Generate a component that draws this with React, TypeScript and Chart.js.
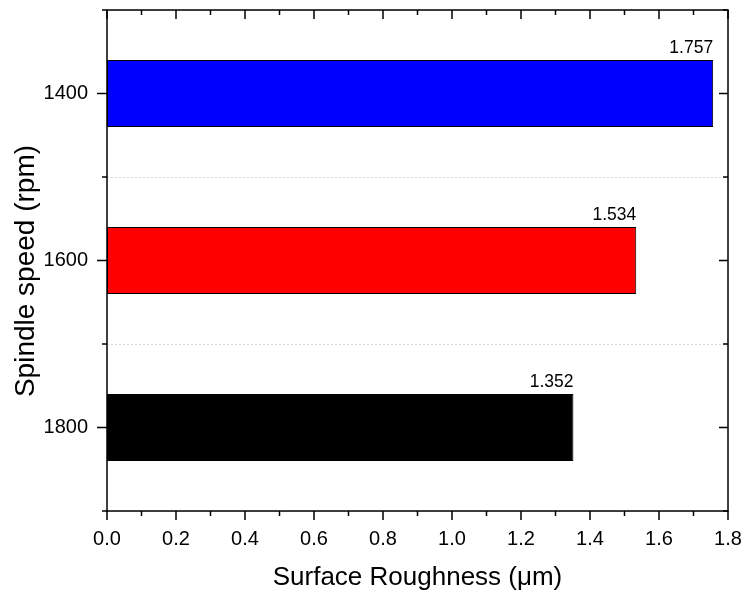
import React, { useEffect, useRef } from "react";
import { Chart, registerables } from "chart.js";

Chart.register(...registerables);

const speeds: string[] = ["1400", "1600", "1800"];
const roughness: number[] = [1.757, 1.534, 1.352];
const barColors: string[] = ["#0000ff", "#ff0000", "#000000"];
const valueLabels: string[] = ["1.757", "1.534", "1.352"];
const xTitle = "Surface Roughness (\u03bcm)";
const yTitle = "Spindle speed (rpm)";
const xMin = 0;
const xMax = 1.8;
const xMajorStep = 0.2;

const FONT = 'Arial, "Liberation Sans", sans-serif';

const framePlugin = {
  id: "frameTicks",
  afterDatasetsDraw(chart: any) {
    const ctx = chart.ctx;
    ctx.save();
    ctx.fillStyle = "#000";
    ctx.font = `17.5px ${FONT}`;
    ctx.textAlign = "right";
    ctx.textBaseline = "bottom";
    const meta = chart.getDatasetMeta(0);
    meta.data.forEach((el: any, i: number) => {
      const h = el.height;
      ctx.fillText(valueLabels[i], el.x, el.y - h / 2 - 3);
    });
    ctx.restore();
  },
  afterDraw(chart: any) {
    const ctx = chart.ctx;
    const ca = chart.chartArea;
    const xs = chart.scales.x;
    const ys = chart.scales.y;
    ctx.save();
    ctx.strokeStyle = "#000";
    ctx.lineWidth = 1.5;
    ctx.lineCap = "butt";
    ctx.strokeRect(ca.left, ca.top, ca.right - ca.left, ca.bottom - ca.top);
    ctx.beginPath();
    const n = Math.round((xMax - xMin) / (xMajorStep / 2));
    for (let i = 0; i <= n; i++) {
      const v = xMin + (i * xMajorStep) / 2;
      const px = xs.getPixelForValue(v);
      const len = i % 2 === 0 ? 9 : 5;
      ctx.moveTo(px, ca.bottom);
      ctx.lineTo(px, ca.bottom + len);
      ctx.moveTo(px, ca.top);
      ctx.lineTo(px, ca.top + len);
    }
    const count = speeds.length;
    for (let i = 0; i < count; i++) {
      const py = ys.getPixelForValue(i);
      ctx.moveTo(ca.left, py);
      ctx.lineTo(ca.left - 10, py);
      ctx.moveTo(ca.right, py);
      ctx.lineTo(ca.right - 9, py);
    }
    for (let i = 0; i <= count; i++) {
      const py = ys.getPixelForValue(i - 0.5);
      ctx.moveTo(ca.left, py);
      ctx.lineTo(ca.left - 5, py);
      ctx.moveTo(ca.right, py);
      ctx.lineTo(ca.right - 5, py);
    }
    ctx.stroke();
    ctx.fillStyle = "#000";
    ctx.font = `28px ${FONT}`;
    ctx.textAlign = "center";
    ctx.textBaseline = "middle";
    ctx.translate(26, 271);
    ctx.rotate(-Math.PI / 2);
    ctx.fillText(yTitle, 0, 0);
    ctx.restore();
  },
};

export default function App() {
  const ref = useRef<HTMLCanvasElement | null>(null);
  useEffect(() => {
    document.body.style.margin = "0";
    const canvas = ref.current;
    if (!canvas) return;
    const chart = new Chart(canvas, {
      type: "bar",
      data: {
        labels: speeds,
        datasets: [
          {
            data: roughness,
            backgroundColor: barColors,
            borderColor: "#000",
            borderWidth: 1,
            borderSkipped: false,
            barPercentage: 0.4,
            categoryPercentage: 1,
          },
        ],
      },
      options: {
        indexAxis: "y",
        animation: false,
        responsive: false,
        maintainAspectRatio: false,
        layout: { padding: { top: 10, right: 16, left: 0, bottom: 0 } },
        plugins: {
          legend: { display: false },
          tooltip: { enabled: false },
        },
        scales: {
          x: {
            type: "linear",
            min: xMin,
            max: xMax,
            grid: { display: false },
            border: { display: false },
            ticks: {
              stepSize: xMajorStep,
              color: "#000",
              font: { family: FONT, size: 20 },
              padding: 8,
              maxRotation: 0,
              callback: (v: any) => Number(v).toFixed(1),
            },
            title: {
              display: true,
              text: xTitle,
              color: "#000",
              font: { family: FONT, size: 26 },
              padding: { top: 0, bottom: 2 },
            },
            afterFit: (s: any) => {
              s.height = 84;
              s.paddingLeft = 0;
              s.paddingRight = 0;
            },
          },
          y: {
            type: "category",
            offset: true,
            grid: {
              display: true,
              offset: true,
              drawTicks: false,
              color: "#d8d8d8",
              lineWidth: 1,
            },
            border: { display: false, dash: [2, 2] },
            ticks: {
              color: "#000",
              font: { family: FONT, size: 20 },
              padding: 19,
            },
            afterFit: (s: any) => {
              s.width = 107;
              s.paddingTop = 0;
              s.paddingBottom = 0;
            },
          },
        },
      },
      plugins: [framePlugin],
    });
    return () => chart.destroy();
  }, []);
  return <canvas ref={ref} width={744} height={595} style={{ display: "block" }} />;
}
